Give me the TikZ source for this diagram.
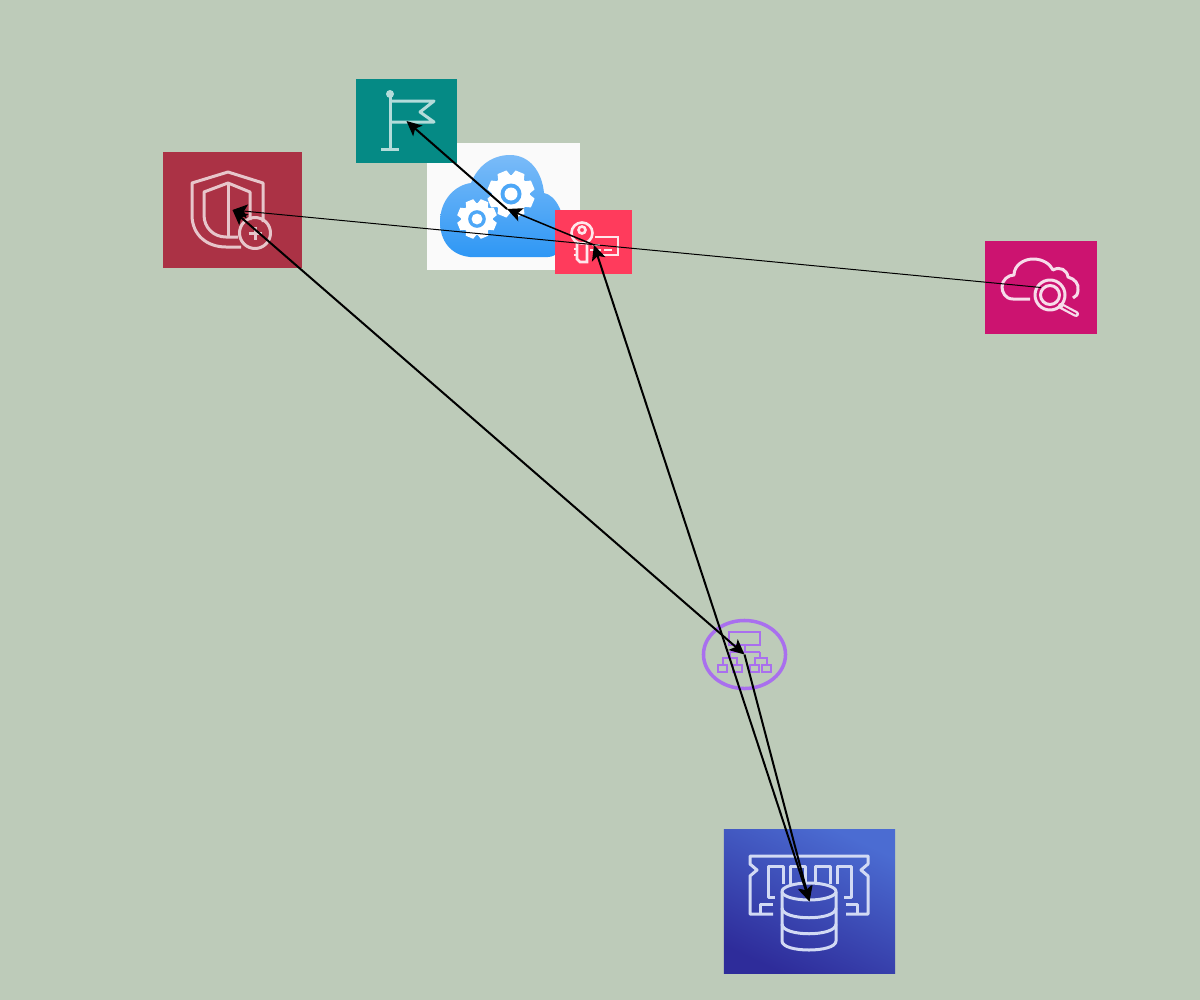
\documentclass[tikz,border=0pt]{standalone}
\usepackage{xcolor}
\usetikzlibrary{arrows.meta,shapes.geometric}
\definecolor{bgsage}{HTML}{BDCBB9}
\definecolor{flagteal}{HTML}{058A85}
\definecolor{shieldred}{HTML}{AB3245}
\definecolor{searchpink}{HTML}{CC1370}
\definecolor{keyred}{HTML}{FF3B5C}
\definecolor{dbdark}{HTML}{2E2C9A}
\definecolor{dblight}{HTML}{4B6CD2}
\definecolor{cloudtop}{HTML}{7ABBF8}
\definecolor{cloudlow}{HTML}{2E97F5}
\definecolor{elbpurple}{HTML}{A96FEE}
\begin{document}
\begin{tikzpicture}[x=0.01cm,y=-0.01cm,
  tile/.style={inner sep=0pt,outer sep=0pt},
  glyph/.style={line width=0.3mm,line join=round},
  ar/.style={-{Stealth[length=1.5mm,width=1.4mm,inset=0.35mm]},line width=0.2mm},
  biar/.style={{Stealth[length=1.5mm,width=1.4mm,inset=0.35mm]}-{Stealth[length=1.5mm,width=1.4mm,inset=0.35mm]},line width=0.2mm},
  pics/gearwheel/.style={code={
    \fill[white] (0,0) circle (19);
    \foreach \a in {0,45,...,315}
      \fill[white] ({\a+11}:24) -- ({\a+34}:24) -- ({\a+45}:18) -- (\a:18) -- cycle;
    \fill[cloudlow!85!white] (0,0) circle (10.5);
    \fill[white] (0,0) circle (6.5);}}]
\fill[bgsage] (0,0) rectangle (1200,1000);
\useasboundingbox (0,0) rectangle (1200,1000);

% tiles
\node[tile,fill=white!98!black,minimum width=1.53cm,minimum height=1.27cm] (cloud) at (503.5,206.5) {};
\node[tile,fill=flagteal,minimum width=1.01cm,minimum height=0.84cm] (flag) at (406.5,121) {};
\node[tile,fill=shieldred,minimum width=1.39cm,minimum height=1.16cm] (shield) at (232.5,210) {};
\node[tile,fill=searchpink,minimum width=1.12cm,minimum height=0.93cm] (search) at (1041,287.5) {};
\node[tile,top color=dblight,bottom color=dbdark,shading angle=-25,minimum width=1.71cm,minimum height=1.43cm] (memdb) at (809.5,901.5) {};
\node[ellipse,draw=elbpurple,line width=0.35mm,inner sep=0pt,outer sep=0pt,minimum width=0.82cm,minimum height=0.68cm] (balancer) at (744.5,654.5) {};

% cloud with gears
\shade[top color=cloudtop,bottom color=cloudlow] (470,257) .. controls (450,255) and (440,240) .. (440,222)
  .. controls (440,200) and (455,185) .. (471,183) .. controls (478,165) and (493,155) .. (510,155)
  .. controls (530,155) and (542,172) .. (544,193) .. controls (556,195) and (566,215) .. (564,235)
  .. controls (563,248) and (557,257) .. (548,257) -- cycle;
\pic at (511,194) {gearwheel};
\pic[scale=.84] at (477,219) {gearwheel};

\node[tile,fill=keyred,minimum width=0.77cm,minimum height=0.64cm] (keycard) at (593.5,242) {};

% flag
\begin{scope}[glyph,draw=white!70!flagteal]
\fill[white!70!flagteal] (390,94) circle (4);
\draw (390,95) -- (390,149) (381,149) -- (399,149);
\draw (390,101) -- (434,101) -- (420,112) -- (434,122) -- (390,122);
\end{scope}

% shield
\begin{scope}[glyph,draw=white!72!shieldred]
\draw (263,222) -- (263,183) -- (228,172) -- (192,183) -- (192,215) .. controls (192,235) and (207,247) .. (226,247) -- (241,247);
\draw (250,220) -- (250,192) -- (228,183) -- (204,192) -- (204,215) .. controls (204,228) and (214,237) .. (226,237) -- (238,237);
\draw (228,183) -- (228,237);
\draw (255,233) circle (15.5);
\draw (248.5,233) -- (261.5,233) (255,226.5) -- (255,239.5);
\end{scope}

% search
\begin{scope}[glyph,draw=white!85!searchpink]
\draw (1030,299) -- (1013,299) .. controls (1005,299) and (1002,292) .. (1002,287)
  .. controls (1002,280) and (1008,275) .. (1014,275) .. controls (1014,265) and (1024,259) .. (1033,259)
  .. controls (1043,259) and (1050,264) .. (1053,270) .. controls (1060,266) and (1067,270) .. (1068,277)
  .. controls (1075,279) and (1079,284) .. (1078,290) .. controls (1078,294) and (1076,297) .. (1073,298);
\fill[searchpink] (1050,295) circle (15);
\draw (1050,295) circle (15) (1050,295) circle (9.5);
\draw[line width=0.6mm,line cap=round] (1061,306) -- (1076,314);
\draw[searchpink,line width=0.15mm] (1063,307) -- (1076,314);
\end{scope}

% balancer
\begin{scope}[line width=0.28mm,draw=elbpurple]
\draw (729,632) rectangle (760,645);
\draw (745,645) -- (745,652) (730,652) -- (760,652);
\draw (723,665) -- (723,658) -- (737,658) -- (737,665);
\draw (755,665) -- (755,658) -- (767,658) -- (767,665);
\draw (730,652) -- (730,658) (760,652) -- (760,658);
\foreach \sx in {718,733,750,762}
  \draw (\sx,665) rectangle ++(9,7);
\end{scope}

% memory chip and cylinder
\begin{scope}[glyph,draw=white!75!dblight]
\draw (773,914) -- (750,914) -- (750,876) -- (757,870) -- (750,864) -- (750,856) -- (868,856) -- (868,864) -- (861,870) -- (868,876) -- (868,914) -- (846,914);
\draw (760,914) -- (760,904) -- (773,904) (846,904) -- (857,904) -- (857,914);
\draw (775,897) -- (768,897) -- (768,866) -- (783,866) -- (783,884);
\draw (790,884) -- (790,866) -- (805,866) -- (805,882);
\draw (815,882) -- (815,866) -- (830,866) -- (830,884);
\draw (837,884) -- (837,866) -- (851,866) -- (851,897) -- (844,897);
\fill[dbdark!60!dblight] (809,891.5) ellipse (27 and 8.5);
\draw (809,891.5) ellipse (27 and 8.5);
\draw (782,891.5) -- (782,941) .. controls (782,953) and (836,953) .. (836,941) -- (836,891.5);
\draw (782,908) .. controls (782,921) and (836,921) .. (836,908);
\draw (782,924) .. controls (782,937) and (836,937) .. (836,924);
\end{scope}

% key card
\begin{scope}[line width=0.26mm,draw=white!88!keyred]
\draw (582,233) circle (10.5);
\draw (582,230) circle (3.5);
\draw (577,243) -- (577,259) -- (580,262) -- (587,262) -- (587,243);
\draw (574,249) -- (577,249) (574,255) -- (577,255);
\draw (595,237) -- (618,237) -- (618,255) -- (593,255);
\draw (590,250) -- (601,250) (604,250) -- (612,250);
\draw (592,245) -- (600,245);
\end{scope}

\coordinate (keyhub) at (594,245);
\coordinate (cloudhub) at (507,209);

% connectors
\draw[ar,line width=0.1mm] (search.center) -- (shield.center);
\draw[ar,line width=0.15mm] (keyhub) -- (cloudhub);
\draw[ar] (cloudhub) -- (flag.center);
\draw[biar] (balancer.center) -- (shield.center);
\draw[biar] (keyhub) -- (memdb.center);
\draw[ar] (balancer.center) -- (memdb.center);
\end{tikzpicture}
\end{document}
